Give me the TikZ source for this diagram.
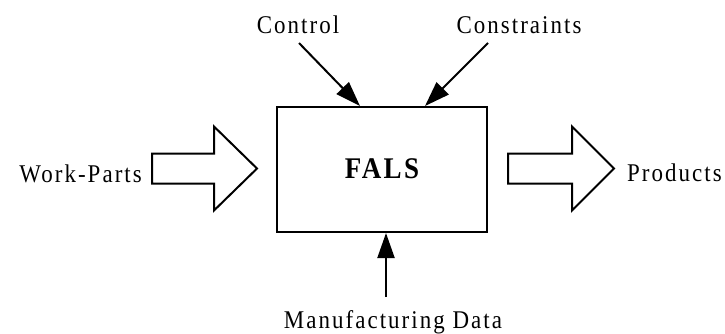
\documentclass[tikz,border=0pt]{standalone}
\usepackage{fontspec}
\setmainfont{Liberation Serif}[LetterSpace=8, FakeStretch=0.9]
\usetikzlibrary{arrows.meta,calc}
\tikzset{
  lbl/.style={inner sep=0pt, font=\fontsize{25.5}{30}\selectfont},
  sig/.style={line width=2pt, -{Triangle[length=25pt,width=17pt]}},
  blk/.style={draw, line width=2pt, line join=miter, fill=white},
  mainbox/.style={draw, line width=2pt, minimum width=210pt, minimum height=125pt, inner sep=0pt}
}
\begin{document}
\begin{tikzpicture}[x=1pt,y=-1pt]
\useasboundingbox (0,0) rectangle (725,333);
\node[mainbox] (box) at (382,169.5) {};
\node[inner sep=0pt, anchor=base, font=\fontsize{30}{34}\selectfont\bfseries] (fals) at (382,178) {FALS};
\node[lbl, anchor=base] (ctrl) at (298,33) {Control};
\node[lbl, anchor=base] (cons) at (519,33) {Constraints};
\node[lbl, anchor=base east] (wp) at (142,182) {Work-Parts};
\node[lbl, anchor=base west] (prod) at (627,181) {Products};
\node[lbl, anchor=base] (mfg) at (393,328) {Manufacturing Data};
\coordinate (c1) at (299,43);
\coordinate (c2) at (488,43);
\coordinate (c3) at (386,297);
\draw[sig] (c1) -- ($(box.north west)+(84,0)$);
\draw[sig] (c2) -- ($(box.north west)+(149,0)$);
\draw[sig] (c3) -- (box.south -| c3);
\draw[blk, shift={(152,168.5)}] (0,-15) -- (62,-15) -- (62,-42) -- (105,0) -- (62,42) -- (62,15) -- (0,15) -- cycle;
\draw[blk, shift={(508,168.5)}] (0,-15) -- (64,-15) -- (64,-42) -- (106,0) -- (64,42) -- (64,15) -- (0,15) -- cycle;
\end{tikzpicture}
\end{document}
